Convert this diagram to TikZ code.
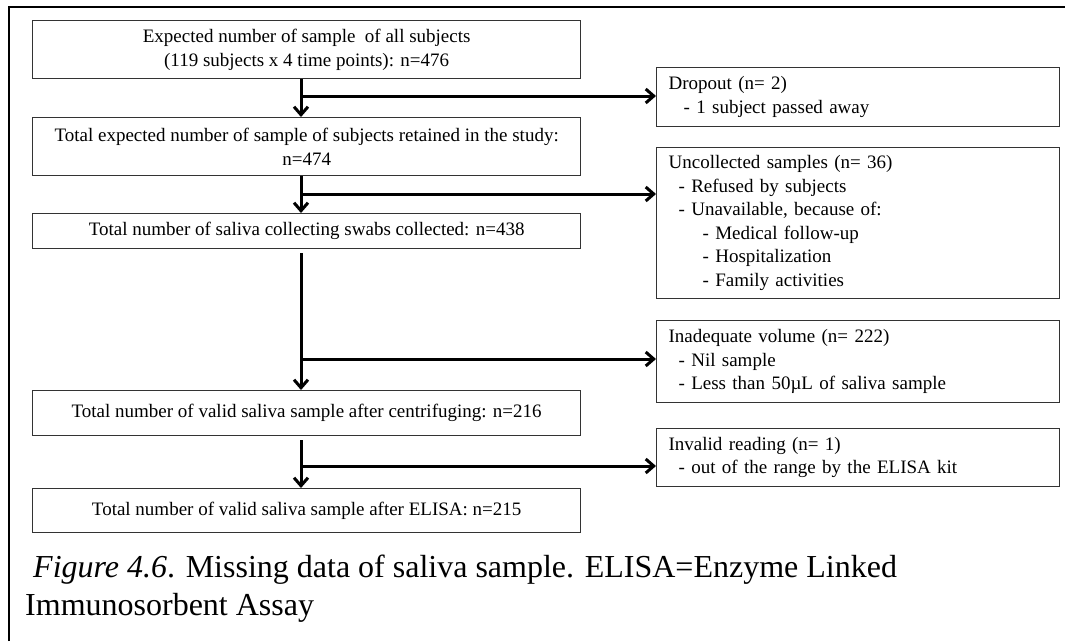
\documentclass[tikz,border=0pt]{standalone}
\usepackage{fontspec}
\setmainfont{Liberation Serif}
\usetikzlibrary{arrows.meta,calc}

\begin{document}
\begin{tikzpicture}[x=1pt,y=-1pt,
  mainbox/.style={draw=black!80, line width=1.3pt, anchor=north west,
    minimum width=548pt, inner xsep=0pt, inner ysep=0pt, align=center,
    font=\fontsize{19}{23.5}\selectfont},
  sidebox/.style={draw=black!80, line width=1.3pt, anchor=north west,
    minimum width=403pt, text width=379pt, inner xsep=12pt, inner ysep=0pt,
    align=left, font=\fontsize{19}{23.5}\selectfont},
  flow/.style={line width=3pt, -{Straight Barb[length=8pt,width=14pt]}},
  captxt/.style={anchor=base west, inner sep=0pt, font=\fontsize{32}{38}\selectfont}]

\useasboundingbox (0,0) rectangle (1065,641);

% outer frame (left and top edges)
\draw[line width=2pt] (9,641) -- (9,7) -- (1065,7);

% main column
\node[mainbox, minimum height=58pt] (b1) at (32,20)
  {Expected number of sample\ \ of all subjects\\(119 subjects x 4 time points): n=476};
\node[mainbox, minimum height=58pt] (b2) at (32,117)
  {Total expected number of sample of subjects retained in the study:\\n=474};
\node[mainbox, minimum height=35pt] (b3) at (32,213)
  {Total number of saliva collecting swabs collected: n=438};
\node[mainbox, minimum height=45pt] (b4) at (32,390)
  {Total number of valid saliva sample after centrifuging: n=216};
\node[mainbox, minimum height=44pt] (b5) at (32,488)
  {Total number of valid saliva sample after ELISA: n=215};

% exclusion boxes
\node[sidebox, minimum height=59pt] (drop) at (656,67)
  {Dropout (n= 2)\\\hspace*{15pt}- 1 subject passed away};
\node[sidebox, minimum height=151pt] (unc) at (656,147)
  {Uncollected samples (n= 36)\\
   \hspace*{10pt}- Refused by subjects\\
   \hspace*{10pt}- Unavailable, because of:\\
   \hspace*{34pt}- Medical follow-up\\
   \hspace*{34pt}- Hospitalization\\
   \hspace*{34pt}- Family activities};
\node[sidebox, minimum height=82pt] (inad) at (656,320)
  {Inadequate volume (n= 222)\\
   \hspace*{10pt}- Nil sample\\
   \hspace*{10pt}- Less than 50µL of saliva sample};
\node[sidebox, minimum height=58pt] (inv) at (656,428)
  {Invalid reading (n= 1)\\
   \hspace*{10pt}- out of the range by the ELISA kit};

% branch points on the vertical flow
\coordinate (j1) at (301,96);
\coordinate (j2) at (301,194);
\coordinate (j3) at (301,359);
\coordinate (j4) at (301,466);

% vertical flow
\draw[flow] (b1.south -| j1) -- (b2.north -| j1);
\draw[flow] (b2.south -| j2) -- (b3.north -| j2);
\draw[flow, shorten <=4pt] (b3.south -| j3) -- (b4.north -| j3);
\draw[flow, shorten <=4pt] (b4.south -| j4) -- (b5.north -| j4);

% exclusions
\draw[flow] (j1) -- (drop.west |- j1);
\draw[flow] (j2) -- (unc.west |- j2);
\draw[flow] (j3) -- (inad.west |- j3);
\draw[flow] (j4) -- (inv.west |- j4);

% caption
\node[captxt] (cap1) at (25,577)
  {\ \textit{Figure 4.6}. Missing data of saliva sample. ELISA=Enzyme Linked};
\node[captxt] (cap2) at (25,615) {Immunosorbent Assay};

\end{tikzpicture}
\end{document}
